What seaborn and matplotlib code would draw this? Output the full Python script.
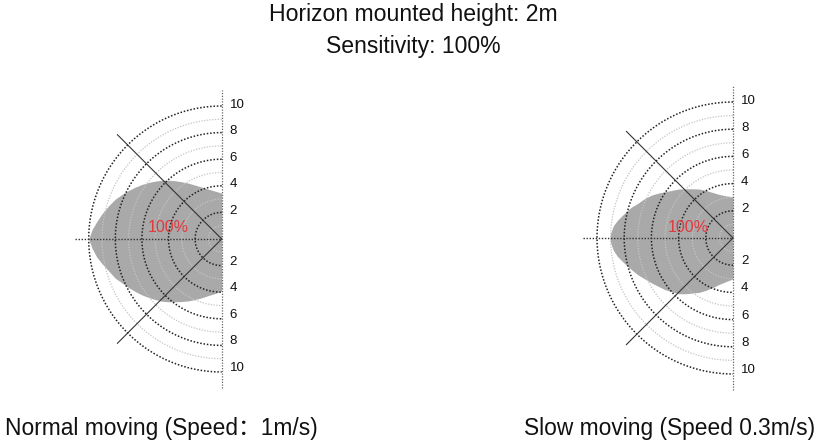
import numpy as np
import matplotlib
matplotlib.use("Agg")
import matplotlib.pyplot as plt
import seaborn as sns

# Chart text
title_lines = ["Horizon mounted height: 2m", "Sensitivity: 100%"]
panel_captions = ["Normal moving (Speed\uff1a1m/s)", "Slow moving (Speed 0.3m/s)"]
sensitivity_label = "100%"

# Range rings (m) and the ones that carry a label
ring_radii = [1, 2, 3, 4, 5, 6, 7, 8, 9, 10]
label_radii = [2, 4, 6, 8, 10]

# Detection area: distance ahead (m) and lateral reach
# above / below the axis (m) at that distance
normal_dist = [0, 0.5, 1, 1.5, 2, 2.5, 3, 3.5, 4, 4.5, 5, 5.5, 6, 6.5, 7, 7.5, 8, 8.5, 9, 9.4, 9.75, 10]
normal_upper = [3.45, 3.6, 3.75, 3.9, 4.05, 4.2, 4.3, 4.38, 4.42, 4.42, 4.35, 4.25, 4.1, 3.9, 3.65, 3.35, 3.0, 2.5, 1.9, 1.3, 0.7, 0]
normal_lower = [3.9, 4.1, 4.25, 4.42, 4.55, 4.65, 4.7, 4.72, 4.72, 4.68, 4.55, 4.4, 4.2, 3.95, 3.65, 3.3, 2.95, 2.4, 1.85, 1.35, 0.7, 0]

slow_dist = [0, 0.5, 1, 1.5, 2, 2.5, 3, 3.5, 4, 4.5, 5, 5.5, 6, 6.5, 7, 7.5, 8, 8.5, 8.8, 9.0, 9.05]
slow_upper = [3.0, 3.1, 3.2, 3.35, 3.5, 3.6, 3.62, 3.62, 3.6, 3.5, 3.4, 3.3, 3.15, 2.9, 2.55, 2.25, 1.8, 1.3, 0.9, 0.35, 0]
slow_lower = [3.0, 3.2, 3.4, 3.65, 3.85, 4.0, 4.05, 4.1, 4.1, 3.95, 3.8, 3.55, 3.3, 3.0, 2.7, 2.3, 1.85, 1.35, 0.9, 0.35, 0]

sns.set_theme(style="white")
plt.rcParams['font.family'] = ['Liberation Sans', 'Noto Sans CJK SC', 'DejaVu Sans']

W, H = 821, 447
fig = plt.figure(figsize=(W / 100, H / 100), dpi=100)


def add_panel(cx, cy, s, dist, upper, lower, label_xy):
    # axes placed so that (0, 0) lands on pixel (cx, cy) with s px per metre
    ax = fig.add_axes([(cx - 12.5 * s) / W, (H - cy - 12 * s) / H, 15 * s / W, 24 * s / H])
    ax.set_xlim(-12.5, 2.5)
    ax.set_ylim(-12, 12)
    ax.axis("off")

    d = -np.array(dist)
    ax.fill_between(d, np.array(upper), -np.array(lower), color="#a9a9a9", lw=0, zorder=1)

    theta = np.linspace(np.pi / 2, 3 * np.pi / 2, 200)
    for r in ring_radii:
        if r % 2 == 0:
            sns.lineplot(x=r * np.cos(theta), y=r * np.sin(theta), sort=False, estimator=None,
                         color="#222222", lw=1.1, ls=(0, (1, 1.2)), ax=ax, zorder=3)
        else:
            sns.lineplot(x=r * np.cos(theta), y=r * np.sin(theta), sort=False, estimator=None,
                         color="#c4c4c4", lw=0.9, ls=(0, (1, 1.2)), ax=ax, zorder=2)

    # spokes at 45 degrees
    for a in [3 * np.pi / 4, 5 * np.pi / 4]:
        ax.plot([0, 11.1 * np.cos(a)], [0, 11.1 * np.sin(a)], color="#333333", lw=0.8, zorder=3)
    ax.plot([-11, 0], [0, 0], color="#333333", lw=1.0, ls=(0, (1, 1.2)), zorder=3)
    ax.plot([0, 0], [-11.2, 11.2], color="#666666", lw=0.9, ls=(0, (1, 1.2)), zorder=3)

    for r in label_radii:
        ax.text(0.6, r + 0.1, str(r), fontsize=9.5, ha="left", va="center", color="#111111")
        ax.text(0.6, -r + 0.3, str(r), fontsize=9.5, ha="left", va="center", color="#111111")

    ax.text(label_xy[0], label_xy[1], sensitivity_label, fontsize=11.5, color="#e0393e",
            ha="center", va="center", zorder=4)
    return ax


add_panel(221.7, 239, 13.3, normal_dist, normal_upper, normal_lower, (-4.0, 0.85))
add_panel(733, 238, 13.6, slow_dist, slow_upper, slow_lower, (-3.3, 0.75))

fig.text(413 / W, 1 - 15 / H, title_lines[0], fontsize=16.6, ha="center", va="center", color="#111111")
fig.text(413 / W, 1 - 47 / H, title_lines[1], fontsize=16.6, ha="center", va="center", color="#111111")

fig.text(5 / W, 1 - 428 / H, panel_captions[0], fontsize=16.4, ha="left", va="center", color="#111111")
fig.text(815 / W, 1 - 428 / H, panel_captions[1], fontsize=16.4, ha="right", va="center", color="#111111")

fig.savefig("out.png", dpi=100)
